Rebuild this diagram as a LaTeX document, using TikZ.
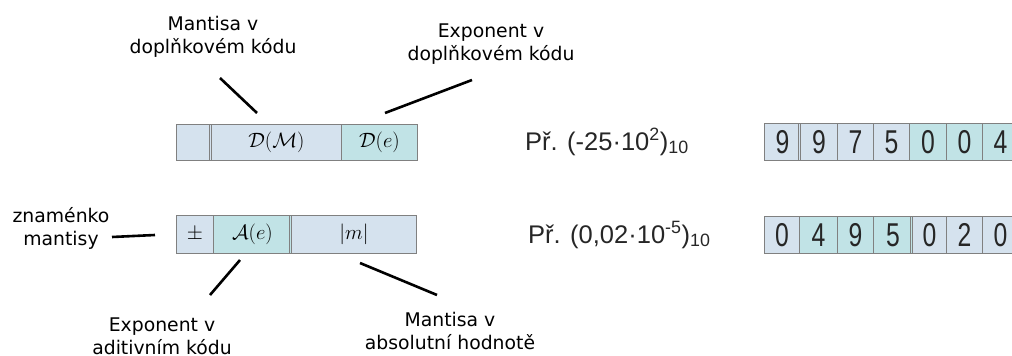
\documentclass[tikz,border=0pt]{standalone}
\usepackage{fontspec}
\setmainfont{Liberation Sans}
\newfontfamily\lblfont{DejaVu Sans}
\newfontfamily\digfont[FakeStretch=0.75]{Liberation Sans}
\newfontfamily\exfont{Liberation Sans}
\definecolor{cellL}{RGB}{213,226,238}
\definecolor{cellC}{RGB}{193,227,230}
\definecolor{cellB}{RGB}{128,128,128}
\begin{document}
\begin{tikzpicture}[x=1pt,y=-1pt,
  cell/.style={draw=cellB, line width=1pt, inner sep=0pt, anchor=north west},
  cl/.style={cell, fill=cellL},
  cc/.style={cell, fill=cellC},
  fmla/.style={font=\fontsize{22}{26}\selectfont},
  dig/.style={font=\digfont\fontsize{33}{33}\selectfont, text=black!85},
  rowA/.style={minimum height=36pt},
  rowB/.style={minimum height=38pt},
  rowC/.style={minimum height=37pt},
  sepline/.style={draw=cellB, line width=1pt},
  lbl/.style={font=\lblfont\fontsize{18.8}{23}\selectfont, align=center, inner sep=0pt, anchor=base},
  extext/.style={font=\exfont\fontsize{25.5}{30}\selectfont, inner sep=0pt, anchor=base west, text=black!85},
  conn/.style={line width=2.6pt, black}]
\clip (0,0) rectangle (1012,356);

% top format box
\node[cl, rowA, minimum width=35pt] (ts) at (176,124) {};
\node[cl, rowA, minimum width=130pt, fmla] (tm) at (211,124) {$\mathcal{D}(\mathcal{M})$};
\node[cc, rowA, minimum width=76pt, fmla] (te) at (341,124) {$\mathcal{D}(e)$};
\draw[sepline] ([xshift=-3pt]ts.north east) -- ([xshift=-3pt]ts.south east);

% bottom format box
\node[cl, rowB, minimum width=37pt, fmla] (bs) at (176,215) {$\pm$};
\node[cc, rowB, minimum width=78pt, fmla] (ba) at (213,215) {$\mathcal{A}(e)$};
\node[cl, rowB, minimum width=125pt, fmla] (bm) at (291,215) {$|m|$};
\draw[sepline] ([xshift=-3pt]ba.north east) -- ([xshift=-3pt]ba.south east);

% examples
\node[extext] (ex1) at (525,150) {Př. (-25·10\textsuperscript{2})\textsubscript{10}};
\node[extext] (ex2) at (528,243) {Př. (0,02·10\textsuperscript{-5})\textsubscript{10}};

% top digits
\node[cl, rowC, minimum width=36pt, dig] (d1) at (764,123) {9};
\node[cl, rowC, minimum width=37pt, dig] (d2) at (800,123) {9};
\node[cl, rowC, minimum width=36pt, dig] (d3) at (837,123) {7};
\node[cl, rowC, minimum width=36pt, dig] (d4) at (873,123) {5};
\node[cc, rowC, minimum width=37pt, dig] (d5) at (909,123) {0};
\node[cc, rowC, minimum width=36pt, dig] (d6) at (946,123) {0};
\node[cc, rowC, minimum width=36pt, dig] (d7) at (982,123) {4};
\draw[sepline] ([xshift=-2.5pt]d1.north east) -- ([xshift=-2.5pt]d1.south east);

% bottom digits
\node[cl, rowC, minimum width=35pt, dig] (e1) at (764,216) {0};
\node[cc, rowC, minimum width=38pt, dig] (e2) at (799,216) {4};
\node[cc, rowC, minimum width=36pt, dig] (e3) at (837,216) {9};
\node[cc, rowC, minimum width=39pt, dig] (e4) at (873,216) {5};
\node[cl, rowC, minimum width=34pt, dig] (e5) at (912,216) {0};
\node[cl, rowC, minimum width=36pt, dig] (e6) at (946,216) {2};
\node[cl, rowC, minimum width=36pt, dig] (e7) at (982,216) {0};
\draw[sepline] ([xshift=-3pt]e4.north east) -- ([xshift=-3pt]e4.south east);

% labels (anchor = baseline of the last line)
\node[lbl] (l1) at (213,53) {Mantisa v\\doplňkovém kódu};
\node[lbl] (l2) at (491,60) {Exponent v\\doplňkovém kódu};
\node[lbl] (l3) at (61,245) {znaménko\\mantisy};
\node[lbl] (l4) at (162,354) {Exponent v\\aditivním kódu};
\node[lbl] (l5) at (450,349) {Mantisa v\\absolutní hodnotě};

% connectors
\coordinate (c1a) at (220,78);  \coordinate (c1b) at (257,113);
\coordinate (c2a) at (472,80);  \coordinate (c2b) at (385,113);
\coordinate (c3a) at (112,237); \coordinate (c3b) at (155,235);
\coordinate (c4a) at (240,260); \coordinate (c4b) at (210,295);
\coordinate (c5a) at (360,263); \coordinate (c5b) at (437,295);
\draw[conn] (c1a) -- (c1b);
\draw[conn] (c2a) -- (c2b);
\draw[conn] (c3a) -- (c3b);
\draw[conn] (c4a) -- (c4b);
\draw[conn] (c5a) -- (c5b);
\end{tikzpicture}
\end{document}
